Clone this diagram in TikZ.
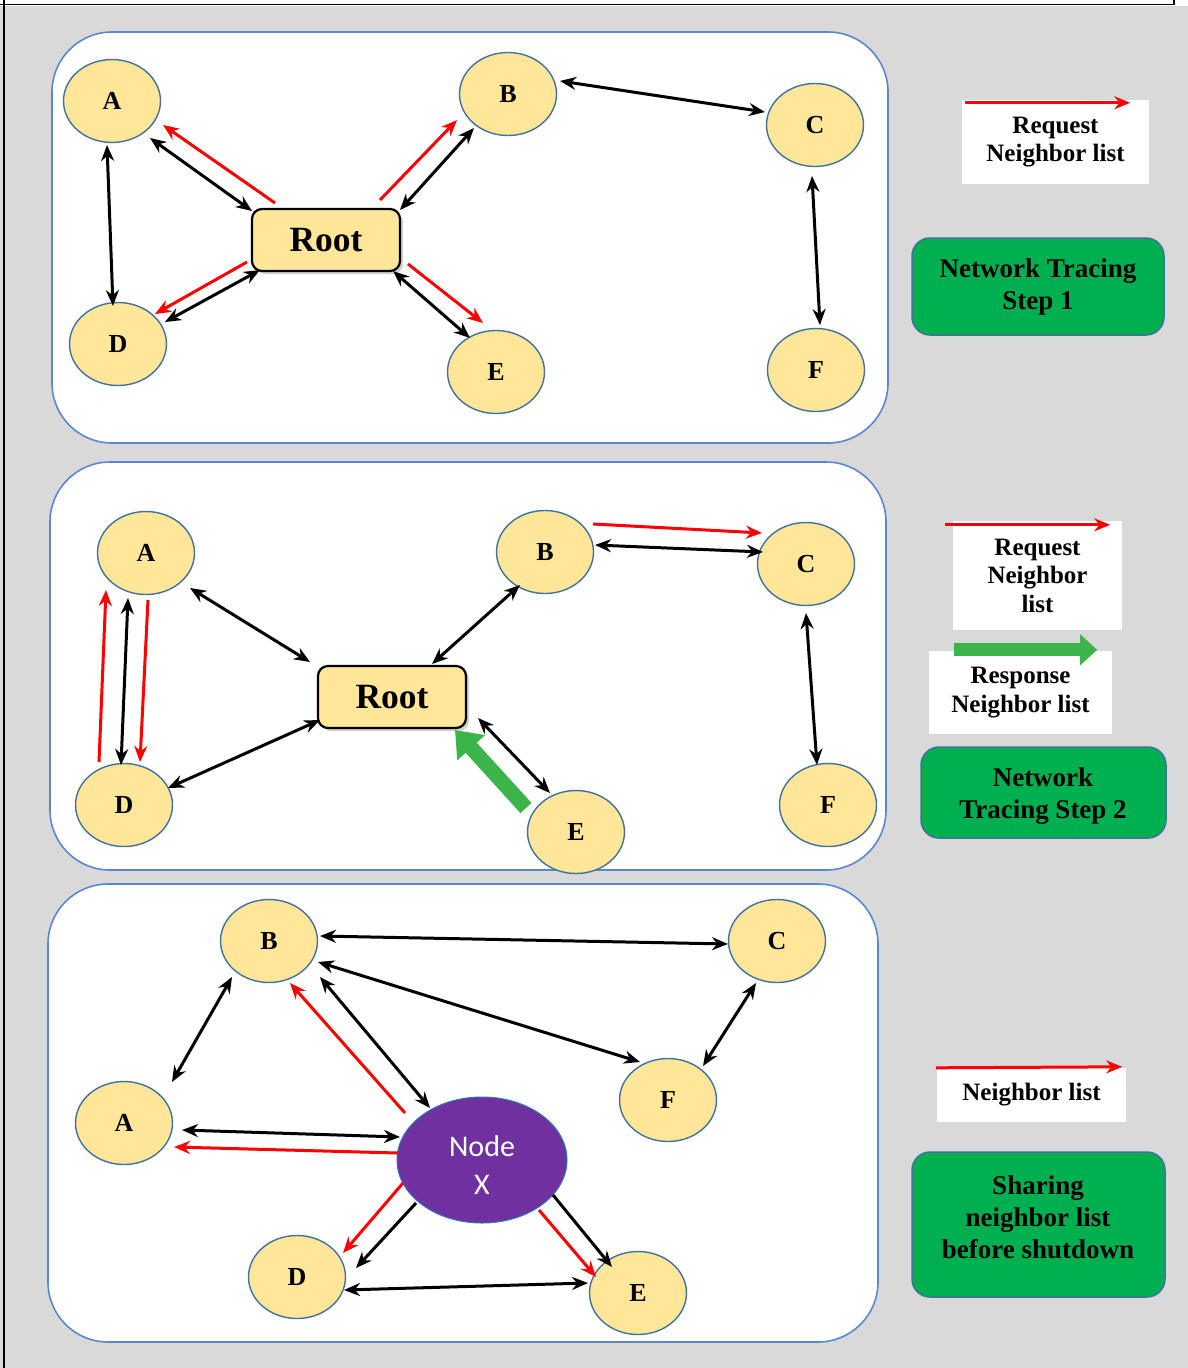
\documentclass[tikz,border=0pt]{standalone}
\usepackage{fontspec}
\setmainfont{Liberation Serif}
\newfontfamily\calibrifont{Carlito}
\usetikzlibrary{arrows.meta,shapes.geometric,shadows,calc}

\definecolor{bggray}{HTML}{D9D9D9}
\definecolor{panelblue}{HTML}{5B87CF}
\definecolor{siteyl}{HTML}{FFE699}
\definecolor{sitebd}{HTML}{41719C}
\definecolor{xpurple}{HTML}{7030A0}
\definecolor{xborder}{HTML}{2E75B6}
\definecolor{stepgreen}{HTML}{00B050}
\definecolor{respgreen}{HTML}{3BB54A}

\begin{document}
\begin{tikzpicture}[x=1pt,y=-1pt,
  panel/.style={draw=panelblue, line width=1.6pt, fill=white, rounded corners=60pt},
  site/.style={ellipse, draw=sitebd, line width=1.4pt, fill=siteyl,
    minimum width=97pt, minimum height=83pt, inner sep=0pt,
    font=\bfseries\fontsize{26}{26}\selectfont},
  rootbox/.style={rectangle, rounded corners=10pt, draw=black, line width=2.2pt, fill=siteyl,
    minimum width=148pt, minimum height=62pt, inner sep=0pt,
    font=\bfseries\fontsize{35.5}{35.5}\selectfont,
    drop shadow={shadow xshift=3pt, shadow yshift=-3pt, opacity=0.35}},
  xnode/.style={ellipse, draw=xborder, line width=1pt, fill=xpurple,
    minimum width=170pt, minimum height=126pt, inner sep=0pt},
  xtext/.style={text=white, inner sep=0pt, align=center,
    font=\calibrifont\fontsize{30}{38}\selectfont},
  legbox/.style={rectangle, fill=white, inner sep=0pt, align=center,
    font=\bfseries\fontsize{25}{28.5}\selectfont},
  stepbox/.style={rectangle, rounded corners=18pt, draw=sitebd, line width=1.5pt,
    fill=stepgreen, inner sep=0pt},
  steptext/.style={inner sep=0pt, align=center, font=\bfseries\fontsize{27}{32}\selectfont},
  dbl/.style={black, line width=3pt,
    {Stealth[length=16pt,width=13pt]}-{Stealth[length=16pt,width=13pt]}},
  one/.style={black, line width=3pt, -{Stealth[length=16pt,width=13pt]}},
  req/.style={red, line width=3pt, -{Stealth[length=16pt,width=13pt]}},
  resp/.style={respgreen, line width=15pt, -{Triangle[length=24pt,width=36pt]}}
]
\useasboundingbox (0,0) rectangle (1188,1368);

% page background and frame
\fill[bggray] (0,6) rectangle (1188,1368);
\draw[black, line width=1.6pt] (0,4.5) -- (1174,4.5) -- (1174,0);
\draw[black, line width=1.6pt] (4,0) -- (4,1368);

% the three panels
\draw[panel] (52,32) rectangle (888,443);
\draw[panel] (50,462) rectangle (886,870);
\draw[panel] (48,884) rectangle (878,1342);

% ---------- Step 1 ----------
\node[site] (A1) at (112,101) {A};
\node[site] (B1) at (508,94) {B};
\node[site] (C1) at (815,125) {C};
\node[site] (D1) at (118,344) {D};
\node[site] (E1) at (496,372) {E};
\node[site] (F1) at (816,370) {F};
\node[rootbox] (R1) at (326,240) {Root};

\draw[dbl] ($(A1)+(-5,44)$) -- ($(D1)+(-5,-38)$);
\draw[dbl] ($(A1)+(38,37)$) -- ($(R1)+(-74,-29)$);
\draw[req] ($(R1)+(-51,-37)$) -- ($(A1)+(51,24)$);
\draw[dbl] ($(B1)+(-34,34)$) -- ($(R1)+(74,-30)$);
\draw[req] ($(R1)+(54,-40)$) -- ($(B1)+(-51,26)$);
\draw[dbl] ($(B1)+(52,-13)$) -- ($(C1)+(-50,-13)$);
\draw[dbl] ($(C1)+(-3,51)$) -- ($(F1)+(4,-45)$);
\draw[dbl] ($(D1)+(47,-22)$) -- ($(R1)+(-66,30)$);
\draw[req] ($(R1)+(-79,22)$) -- ($(D1)+(37,-30)$);
\draw[dbl] ($(R1)+(67,31)$) -- ($(E1)+(-26,-34)$);
\draw[req] ($(R1)+(82,24)$) -- ($(E1)+(-13,-49)$);

\node[legbox, minimum width=187pt, minimum height=84pt] (L1) at (1055.5,142) {Request\\Neighbor list};
\draw[req] ($(L1.north west)+(3,3)$) -- ($(L1.north east)+(-19,3)$);
\node[stepbox, minimum width=252pt, minimum height=97pt] (S1) at (1038,286.5) {};
\node[steptext] (S1t) at (1038,287) {Network Tracing\\Step 1};

% ---------- Step 2 ----------
\node[site] (A2) at (146,553) {A};
\node[site] (B2) at (545,552) {B};
\node[site] (C2) at (806,564) {C};
\node[site] (D2) at (124,805) {D};
\node[site] (E2) at (576,832) {E};
\node[site] (F2) at (828,805) {F};
\node[rootbox] (R2) at (392,697) {Root};

\draw[dbl] ($(A2)+(44,35)$) -- ($(R2)+(-82,-35)$);
\draw[dbl] ($(A2)+(-18,45)$) -- ($(D2)+(-3,-40)$);
\draw[req] ($(D2)+(-25,-43)$) -- ($(A2)+(-40,37)$);
\draw[req] ($(A2)+(2,47)$) -- ($(D2)+(16,-43)$);
\draw[dbl] ($(D2)+(44,-17)$) -- ($(R2)+(-72,23)$);
\draw[dbl] ($(B2)+(-25,33)$) -- ($(R2)+(40,-33)$);
\draw[dbl] ($(B2)+(50,-7)$) -- ($(C2)+(-43,-12)$);
\draw[req] ($(B2)+(48,-28)$) -- ($(C2)+(-44,-31)$);
\draw[dbl] ($(C2)+(0,49)$) -- ($(F2)+(-11,-40)$);
\draw[dbl] ($(R2)+(86,21)$) -- ($(E2)+(-26,-39)$);
\draw[resp] ($(E2)+(-50,-24)$) -- ($(R2)+(63,33)$);

\node[legbox, minimum width=169pt, minimum height=109pt] (L2) at (1037.5,575.5) {Request\\Neighbor\\list};
\draw[req] ($(L2.north west)+(-8,4)$) -- ($(L2.north east)+(-12,4)$);
\node[legbox, minimum width=183pt, minimum height=83pt] (L3) at (1020.5,692.5) {Response\\Neighbor list};
\draw[respgreen, line width=13pt, -{Triangle[length=17pt,width=30pt]}]
  ($(L3.north west)+(25,-1)$) -- ($(L3.north east)+(-15,-1)$);
\node[stepbox, minimum width=245pt, minimum height=91pt] (S2) at (1043.5,792.5) {};
\node[steptext] (S2t) at (1043,796) {Network\\Tracing Step 2};

% ---------- Sharing before shutdown ----------
\node[site] (B3) at (269,941) {B};
\node[site] (C3) at (777,941) {C};
\node[site] (A3) at (124,1123) {A};
\node[site] (F3) at (668,1100) {F};
\node[site] (D3) at (297,1277) {D};
\node[site] (E3) at (638,1293) {E};
\node[xnode] (X) at (482,1160) {};
\node[xtext] (Xt) at (482,1165) {Node\\X};

\draw[dbl] ($(B3)+(51,-5)$) -- ($(C3)+(-49,3)$);
\draw[dbl] ($(B3)+(49,21)$) -- ($(F3)+(-28,-38)$);
\draw[dbl] ($(C3)+(-21,42)$) -- ($(F3)+(35,-34)$);
\draw[dbl] ($(B3)+(-37,36)$) -- ($(A3)+(48,-41)$);
\draw[req] ($(X)+(-77,-47)$) -- ($(B3)+(21,42)$);
\draw[dbl] ($(B3)+(51,36)$) -- ($(X)+(-52,-52)$);
\draw[dbl] ($(X)+(-82,-23)$) -- ($(A3)+(58,7)$);
\draw[req] ($(X)+(-84,-7)$) -- ($(A3)+(50,24)$);
\draw[req] ($(X)+(-79,23)$) -- ($(D3)+(46,-24)$);
\draw[one] ($(X)+(-66,43)$) -- ($(D3)+(59,-9)$);
\draw[one] ($(X)+(71,35)$) -- ($(E3)+(-26,-26)$);
\draw[req] ($(X)+(57,50)$) -- ($(E3)+(-42,-16)$);
\draw[dbl] ($(D3)+(47,13)$) -- ($(E3)+(-50,-10)$);

\node[legbox, minimum width=189pt, minimum height=54pt] (L4) at (1031.5,1095) {Neighbor list};
\draw[req] ($(L4.north west)+(-1,0)$) -- ($(L4.north east)+(-4,-1)$);
\node[stepbox, minimum width=253pt, minimum height=145pt] (S3) at (1038.5,1224.5) {};
\node[steptext] (S3t) at (1038,1217) {Sharing\\neighbor list\\before shutdown};
\end{tikzpicture}
\end{document}
